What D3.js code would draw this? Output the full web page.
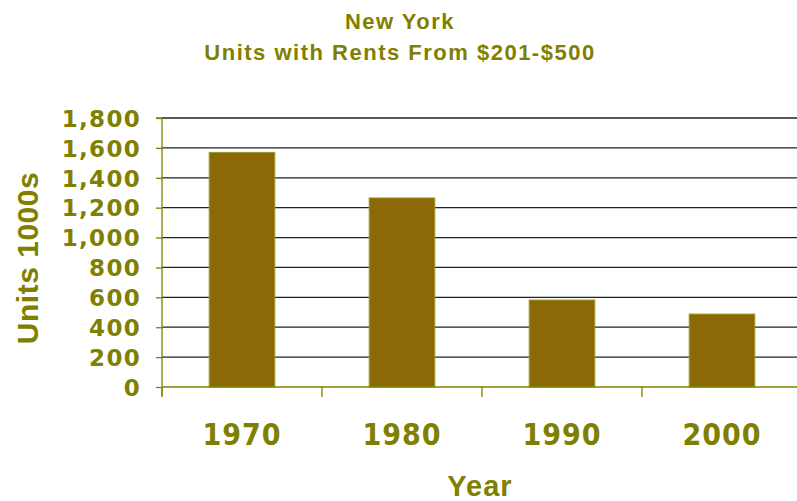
<!DOCTYPE html>
<html><head><meta charset="utf-8">
<script src="https://cdn.jsdelivr.net/npm/d3@7"></script>
<style>body{margin:0;background:#fff;}svg{display:block;}</style>
</head><body>
<svg id="c" width="797" height="501"></svg>
<script>
const categories = ["1970", "1980", "1990", "2000"];
const values = [1570, 1265, 582, 488];
const yTicks = [0, 200, 400, 600, 800, 1000, 1200, 1400, 1600, 1800];
const titleLines = ["New York", "Units with Rents From $201-$500"];
const yTitle = "Units 1000s";
const xTitle = "Year";

const olive = "#808000";
const barFill = "#8B6907";
const svg = d3.select("#c");
const m = {l: 162, r: -5, t: 118, b: 114};
const W = 797, H = 501;
const x = d3.scaleBand().domain(categories).range([m.l, W - m.r]).paddingInner(0.59).paddingOuter(0.295);
const y = d3.scaleLinear().domain([0, 1800]).range([H - m.b, m.t]);

// gridlines
svg.append("g").selectAll("line").data(yTicks.filter(d => d > 0)).join("line")
  .attr("x1", m.l).attr("x2", W).attr("y1", d => y(d)).attr("y2", d => y(d))
  .attr("stroke", "#222").attr("stroke-width", 1.3);

// bars
svg.append("g").selectAll("rect").data(values).join("rect")
  .attr("x", (d, i) => x(categories[i])).attr("width", x.bandwidth())
  .attr("y", d => y(d)).attr("height", d => y(0) - y(d))
  .attr("fill", barFill).attr("stroke", "#9a9a20").attr("stroke-width", 1);

// y axis
const ya = svg.append("g").attr("transform", `translate(${m.l},0)`)
  .call(d3.axisLeft(y).tickValues(yTicks).tickSize(6).tickPadding(15).tickFormat(d3.format(",")));
ya.select(".domain").attr("stroke", olive).attr("stroke-width", 1.3).attr("d", `M-6,${y(1800)}H0V${y(0)+9}`);
ya.selectAll(".tick line").attr("stroke", olive).attr("stroke-width", 1.3);
ya.selectAll(".tick text").attr("fill", olive).attr("font-family", "DejaVu Sans, Verdana, sans-serif")
  .attr("font-weight", "bold").attr("font-size", 23).attr("letter-spacing", 1.3).attr("dy", "0.36em");

// x axis
const bandStep = x.step();
const xa = svg.append("g").attr("transform", `translate(0,${y(0)})`);
xa.append("line").attr("x1", m.l).attr("x2", W).attr("stroke", olive).attr("stroke-width", 1.5);
xa.selectAll("line.t").data(categories).join("line").attr("class", "t")
  .attr("x1", d => x(d) + x.bandwidth() / 2 - bandStep / 2).attr("x2", d => x(d) + x.bandwidth() / 2 - bandStep / 2)
  .attr("y1", 0).attr("y2", 10).attr("stroke", olive).attr("stroke-width", 1.3);
xa.selectAll("text").data(categories).join("text")
  .attr("x", d => x(d) + x.bandwidth() / 2).attr("y", 58).attr("text-anchor", "middle")
  .attr("fill", olive).attr("font-family", "DejaVu Sans Condensed, DejaVu Sans, sans-serif").attr("font-weight", "bold")
  .attr("font-size", 30).attr("letter-spacing", 1).text(d => d);

// titles
svg.append("g").selectAll("text").data(titleLines).join("text")
  .attr("x", 400).attr("y", (d, i) => 28.5 + i * 31).attr("text-anchor", "middle")
  .attr("fill", olive).attr("font-family", "Liberation Sans, Arial, sans-serif").attr("font-weight", "bold")
  .attr("font-size", 22).attr("letter-spacing", 1.5).text(d => d);

svg.append("text").attr("transform", "translate(38,258) rotate(-90)").attr("text-anchor", "middle")
  .attr("fill", olive).attr("font-family", "Liberation Sans, Arial, sans-serif").attr("font-weight", "bold")
  .attr("font-size", 30).attr("letter-spacing", 0.5).text(yTitle);

svg.append("text").attr("x", 480).attr("y", 496).attr("text-anchor", "middle")
  .attr("fill", olive).attr("font-family", "Liberation Sans, Arial, sans-serif").attr("font-weight", "bold")
  .attr("font-size", 29).attr("letter-spacing", 1).text(xTitle);
</script>
</body></html>
